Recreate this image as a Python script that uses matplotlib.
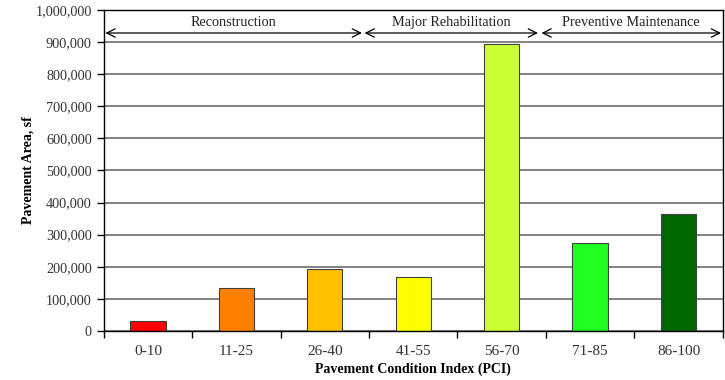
import numpy as np
import matplotlib.pyplot as plt
from matplotlib.ticker import FuncFormatter, FixedLocator

plt.rcParams['font.family'] = ['Liberation Serif', 'DejaVu Serif']

categories = ['0-10', '11-25', '26-40', '41-55', '56-70', '71-85', '86-100']
areas = [32000, 135000, 194000, 168000, 894000, 273000, 364000]
bar_colors = ['#FF0000', '#FF8000', '#FFC000', '#FFFF00', '#CCFF33', '#22FF22', '#006600']

# treatment bands: label, first category edge, last category edge
bands = [('Reconstruction', -0.48, 2.42),
         ('Major Rehabilitation', 2.45, 4.41),
         ('Preventive Maintenance', 4.45, 6.48)]

fig = plt.figure(figsize=(7.25, 3.8), dpi=100)
ax = fig.add_axes([0.143, 0.129, 0.854, 0.845])

x = np.arange(len(categories))
ax.set_axisbelow(True)
ax.yaxis.grid(True, color='#606060', linewidth=1.1)
ax.bar(x, areas, width=0.4, color=bar_colors, edgecolor='#404040', linewidth=0.8)

ax.set_xlim(-0.5, len(categories) - 0.5)
ax.set_ylim(0, 1000000)
ax.set_yticks(np.arange(0, 1000001, 100000))
ax.yaxis.set_major_formatter(FuncFormatter(lambda v, p: f'{int(v):,}'))

ax.set_xticks(x)
ax.set_xticklabels(categories)
ax.xaxis.set_minor_locator(FixedLocator(np.arange(-0.5, len(categories), 1.0)))
ax.tick_params(axis='x', which='major', length=0, pad=10, labelsize=11)
ax.tick_params(axis='x', which='minor', length=5, width=1, direction='out')
ax.tick_params(axis='y', length=5, width=1, direction='out', labelsize=10.3,
               labelcolor='#333333')
ax.tick_params(axis='x', labelcolor='#333333')

for s in ax.spines.values():
    s.set_color('black')
    s.set_linewidth(1.0)

for label, x0, x1 in bands:
    ax.annotate('', xy=(x0, 928000), xytext=(x1, 928000),
                arrowprops=dict(arrowstyle='<->', color='black', lw=0.9,
                                shrinkA=0, shrinkB=0, mutation_scale=15))
    ax.text((x0 + x1) / 2, 960000, label, ha='center', va='center',
            fontsize=10.3, color='#222222')

ax.set_xlabel('Pavement Condition Index (PCI)', fontsize=10, fontweight='bold',
              labelpad=3)
ax.set_ylabel('Pavement Area, sf', fontsize=10, fontweight='bold', labelpad=1)

fig.savefig('out.png', dpi=100)
